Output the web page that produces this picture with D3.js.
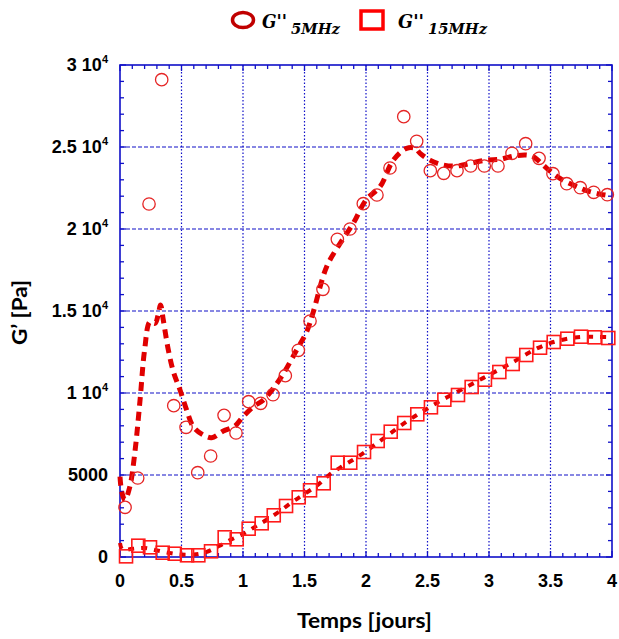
<!DOCTYPE html>
<html><head><meta charset="utf-8">
<script src="https://cdn.jsdelivr.net/npm/d3@7"></script>
<style>body{margin:0;background:#fff}</style>
</head><body>
<svg id="c" width="619" height="639"></svg>
<script>
// ---- data ----
const t5 = [0.041,0.144,0.236,0.339,0.437,0.537,0.632,0.737,0.846,0.943,1.046,1.144,1.244,1.344,1.450,1.545,1.650,1.767,1.870,1.978,2.089,2.195,2.307,2.412,2.523,2.632,2.740,2.851,2.962,3.073,3.187,3.298,3.407,3.520,3.632,3.742,3.851,3.962];
const g5 = [3030,4817,21524,29104,9226,7909,5140,6159,8640,7561,9470,9372,9896,11055,12604,14390,16323,19372,20000,21543,22073,23720,26848,25348,23555,23396,23555,23841,23841,23841,24616,25201,24311,23372,22762,22518,22238,22091];
const t15 = [0.049,0.149,0.244,0.347,0.445,0.545,0.637,0.740,0.851,0.949,1.046,1.152,1.250,1.350,1.453,1.545,1.656,1.770,1.872,1.984,2.095,2.201,2.311,2.417,2.528,2.637,2.748,2.859,2.967,3.084,3.193,3.303,3.415,3.526,3.637,3.748,3.859,3.970];
const g15 = [40,689,591,262,201,104,104,348,1201,1079,1726,2055,2543,3110,3640,4067,4494,5750,5750,6402,7073,7640,8171,8701,9128,9591,9878,10366,10811,11280,11768,12317,12762,13110,13311,13433,13396,13354];
const fit5T = [0,0.014,0.04,0.08,0.12,0.163,0.2,0.244,0.285,0.31,0.33,0.352,0.393,0.434,0.488,0.542,0.596,0.677,0.745,0.84,0.935,1.0,1.084,1.165,1.247,1.33,1.436,1.518,1.572,1.68,1.79,1.897,2.0,2.114,2.222,2.33,2.4,2.44,2.52,2.63,2.74,2.846,2.98,3.09,3.2,3.307,3.36,3.47,3.577,3.685,3.794,3.9,4.0];
const fit5V = [4900,3980,3475,4290,6320,9570,12620,14350,14250,14760,15370,14450,12620,11300,10180,8960,7945,7440,7275,7680,7990,8555,9165,9570,10290,11200,12620,13740,14960,17700,19130,20350,21770,22580,24200,24920,24920,24615,24200,23900,23840,24000,24200,24250,24450,24510,24410,23700,23090,22680,22340,22130,22010];
const fit15T = [0,0.02,0.1,0.2,0.3,0.4,0.5,0.6,0.7,0.8,0.9,1.0,1.1,1.2,1.3,1.4,1.5,1.6,1.7,1.8,1.9,2.0,2.1,2.2,2.3,2.4,2.5,2.6,2.7,2.8,2.9,3.0,3.1,3.2,3.3,3.4,3.5,3.6,3.7,3.8,3.9,4.0];
const fit15V = [850,450,500,550,400,250,150,150,300,650,1050,1400,1850,2300,2800,3350,3850,4350,5000,5500,5950,6450,7000,7550,8100,8600,9050,9500,9900,10300,10700,11100,11500,11900,12350,12750,13050,13250,13380,13430,13420,13400];
const xTicks = [0,0.5,1,1.5,2,2.5,3,3.5,4];
const xTickLabels = ["0","0.5","1","1.5","2","2.5","3","3.5","4"];
const yTicks = [0,5000,10000,15000,20000,25000,30000];
const yTickMain = ["0","5000","1 10","1.5 10","2 10","2.5 10","3 10"];
const yTickSup = ["","","4","4","4","4","4"];
const legendNames = ["5MHz","15MHz"];

// ---- chart ----
const svg = d3.select("#c");
const L=120,R=612,T=65,B=557;
const x = d3.scaleLinear().domain([0,4]).range([L,R]);
const y = d3.scaleLinear().domain([0,30000]).range([B,T]);
const blue="#1010c8";

// grid
svg.append("g").selectAll("line").data(xTicks.filter(d=>d>0&&d<4)).join("line")
  .attr("x1",d=>x(d)).attr("x2",d=>x(d)).attr("y1",T).attr("y2",B)
  .attr("stroke",blue).attr("stroke-width",1.2).attr("stroke-dasharray","1.5,2");
svg.append("g").selectAll("line").data(yTicks.filter(d=>d>0&&d<30000)).join("line")
  .attr("x1",L).attr("x2",R).attr("y1",d=>y(d)).attr("y2",d=>y(d))
  .attr("stroke",blue).attr("stroke-width",1.2).attr("stroke-dasharray","4,2");

// minor/major ticks (inward, all four sides)
const ax = svg.append("g").attr("stroke",blue).attr("stroke-width",1.3);
d3.range(0,40.01,1).map(i=>i/10).forEach(v=>{
  const len = (Math.round(v*10)%5===0)?6:4;
  ax.append("line").attr("x1",x(v)).attr("x2",x(v)).attr("y1",B).attr("y2",B-len);
  ax.append("line").attr("x1",x(v)).attr("x2",x(v)).attr("y1",T).attr("y2",T+len);
});
d3.range(0,30001,1000).forEach(v=>{
  const len = (v%5000===0)?6:4;
  ax.append("line").attr("y1",y(v)).attr("y2",y(v)).attr("x1",L).attr("x2",L+len);
  ax.append("line").attr("y1",y(v)).attr("y2",y(v)).attr("x1",R).attr("x2",R-len);
});
svg.append("rect").attr("x",L).attr("y",T).attr("width",R-L).attr("height",B-T)
  .attr("fill","none").attr("stroke",blue).attr("stroke-width",1.6);

// tick labels
svg.append("g").selectAll("text").data(xTicks).join("text")
  .attr("x",d=>x(d)).attr("y",587).attr("text-anchor","middle")
  .attr("font-family","Liberation Sans, Arial, sans-serif").attr("font-weight","bold").attr("font-size",18)
  .text((d,i)=>xTickLabels[i]);
const yl = svg.append("g").selectAll("text").data(yTicks).join("text")
  .attr("x",108).attr("y",d=>y(d)+6).attr("text-anchor","end")
  .attr("font-family","Liberation Sans, Arial, sans-serif").attr("font-weight","bold").attr("font-size",18);
yl.append("tspan").text((d,i)=>yTickMain[i]);
yl.append("tspan").attr("font-size",11).attr("dy",-8).text((d,i)=>yTickSup[i]);

// axis titles
svg.append("text").attr("x",364.5).attr("y",628).attr("text-anchor","middle")
  .attr("font-family","Lato, sans-serif").attr("font-weight","bold").attr("font-size",21)
  .attr("textLength",135).attr("lengthAdjust","spacingAndGlyphs")
  .text("Temps [jours]");
svg.append("text").attr("transform","translate(27,312.5) rotate(-90)").attr("text-anchor","middle")
  .attr("font-family","Lato, sans-serif").attr("font-weight","bold").attr("font-size",21)
  .attr("textLength",65).attr("lengthAdjust","spacingAndGlyphs")
  .text("G’ [Pa]");

// lines
const line = d3.line().x(d=>x(d[0])).y(d=>y(d[1])).curve(d3.curveCatmullRom);
svg.append("path").datum(fit15T.map((t,i)=>[t,fit15V[i]])).attr("d",line)
  .attr("fill","none").attr("stroke","#e00000").attr("stroke-width",4).attr("stroke-dasharray","6,7");
svg.append("path").datum(fit5T.map((t,i)=>[t,fit5V[i]])).attr("d",line)
  .attr("fill","none").attr("stroke","#e00000").attr("stroke-width",5).attr("stroke-dasharray","9,6");

// markers
svg.append("g").selectAll("rect").data(t15.map((t,i)=>[t,g15[i]])).join("rect")
  .attr("x",d=>x(d[0])-6.5).attr("y",d=>y(d[1])-6.5).attr("width",13).attr("height",13)
  .attr("fill","none").attr("stroke","#ff1a1a").attr("stroke-width",1.6);
svg.append("g").selectAll("circle").data(t5.map((t,i)=>[t,g5[i]])).join("circle")
  .attr("cx",d=>x(d[0])).attr("cy",d=>y(d[1])).attr("r",6.2)
  .attr("fill","none").attr("stroke","#e52525").attr("stroke-width",1.3);

// legend
svg.append("ellipse").attr("cx",243).attr("cy",20).attr("rx",10.5).attr("ry",7.5)
  .attr("fill","none").attr("stroke","#c00000").attr("stroke-width",3.5);
svg.append("rect").attr("x",361).attr("y",11).attr("width",22).attr("height",18)
  .attr("fill","none").attr("stroke","#ff0000").attr("stroke-width",3.5);
const lg = [[262,25,291,49],[398,26,428,59]];
lg.forEach((p,i)=>{
  svg.append("text").attr("font-family","DejaVu Serif, serif")
    .attr("font-weight","bold").attr("font-style","italic")
    .attr("x",p[0]).attr("y",27.5).attr("font-size",19)
    .attr("textLength",p[1]).attr("lengthAdjust","spacingAndGlyphs").text("G''");
  svg.append("text").attr("font-family","DejaVu Serif, serif")
    .attr("font-weight","bold").attr("font-style","italic")
    .attr("x",p[2]).attr("y",33.5).attr("font-size",14.5)
    .attr("textLength",p[3]).attr("lengthAdjust","spacingAndGlyphs").text(legendNames[i]);
});
</script>
</body></html>
